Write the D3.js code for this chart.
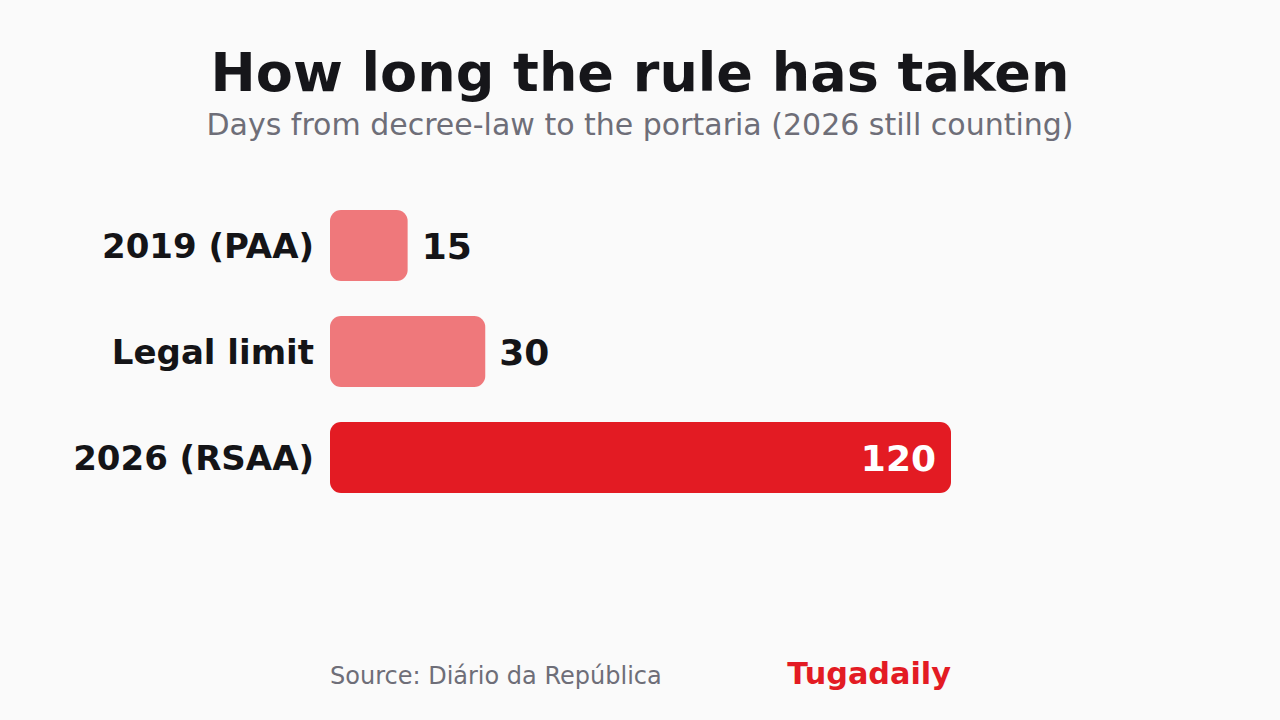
<!DOCTYPE html>
<html>
<head>
<meta charset="utf-8">
<script src="https://cdn.jsdelivr.net/npm/d3@7"></script>
<style>
html,body{margin:0;padding:0;background:#fafafa;}
svg{display:block;}
</style>
</head>
<body>
<svg id="chart" width="1280" height="720"></svg>
<script>
const categories = ["2019 (PAA)", "Legal limit", "2026 (RSAA)"];
const values = [15, 30, 120];
const highlight = [false, false, true];
const title = "How long the rule has taken";
const subtitle = "Days from decree-law to the portaria (2026 still counting)";
const source = "Source: Diário da República";
const brand = "Tugadaily";

const W = 1280, H = 720;
const svg = d3.select("#chart");
svg.append("rect").attr("width", W).attr("height", H).attr("fill", "#fafafa");

const font = "'DejaVu Sans', sans-serif";

svg.append("text").attr("x", 640).attr("y", 91).attr("text-anchor", "middle")
  .attr("font-family", font).attr("font-weight", "bold").attr("font-size", 54)
  .attr("fill", "#16161a").text(title);
svg.append("text").attr("x", 640).attr("y", 135).attr("text-anchor", "middle")
  .attr("font-family", font).attr("font-size", 30)
  .attr("fill", "#6e6e78").text(subtitle);

const x = d3.scaleLinear().domain([0, 120]).range([330, 951]);
const y = d3.scaleBand().domain(categories).range([192.5, 510.5]).paddingInner(0.33).paddingOuter(0.165);

const g = svg.append("g");
const rows = g.selectAll("g.row").data(categories.map((c, i) => ({c, v: values[i], h: highlight[i]})))
  .join("g").attr("class", "row");

rows.append("rect")
  .attr("x", x(0)).attr("y", d => y(d.c))
  .attr("width", d => x(d.v) - x(0)).attr("height", y.bandwidth())
  .attr("rx", 11).attr("ry", 11)
  .attr("fill", d => d.h ? "#e31b23" : "#ef787b");

rows.append("text")
  .attr("x", x(0) - 16).attr("y", d => y(d.c) + y.bandwidth() / 2 + 12.5)
  .attr("text-anchor", "end")
  .attr("font-family", font).attr("font-weight", "bold").attr("font-size", 34)
  .attr("fill", "#141417").text(d => d.c);

rows.append("text")
  .attr("x", d => d.h ? x(d.v) - 15 : x(d.v) + 14)
  .attr("y", d => y(d.c) + y.bandwidth() / 2 + 13)
  .attr("text-anchor", d => d.h ? "end" : "start")
  .attr("font-family", font).attr("font-weight", "bold").attr("font-size", 36)
  .attr("fill", d => d.h ? "#ffffff" : "#141417").text(d => d.v);

svg.append("text").attr("x", 330).attr("y", 684)
  .attr("font-family", font).attr("font-size", 24)
  .attr("fill", "#6e6e78").text(source);
svg.append("text").attr("x", 951).attr("y", 684).attr("text-anchor", "end")
  .attr("font-family", font).attr("font-weight", "bold").attr("font-size", 30.3)
  .attr("fill", "#e31b23").text(brand);
</script>
</body>
</html>
